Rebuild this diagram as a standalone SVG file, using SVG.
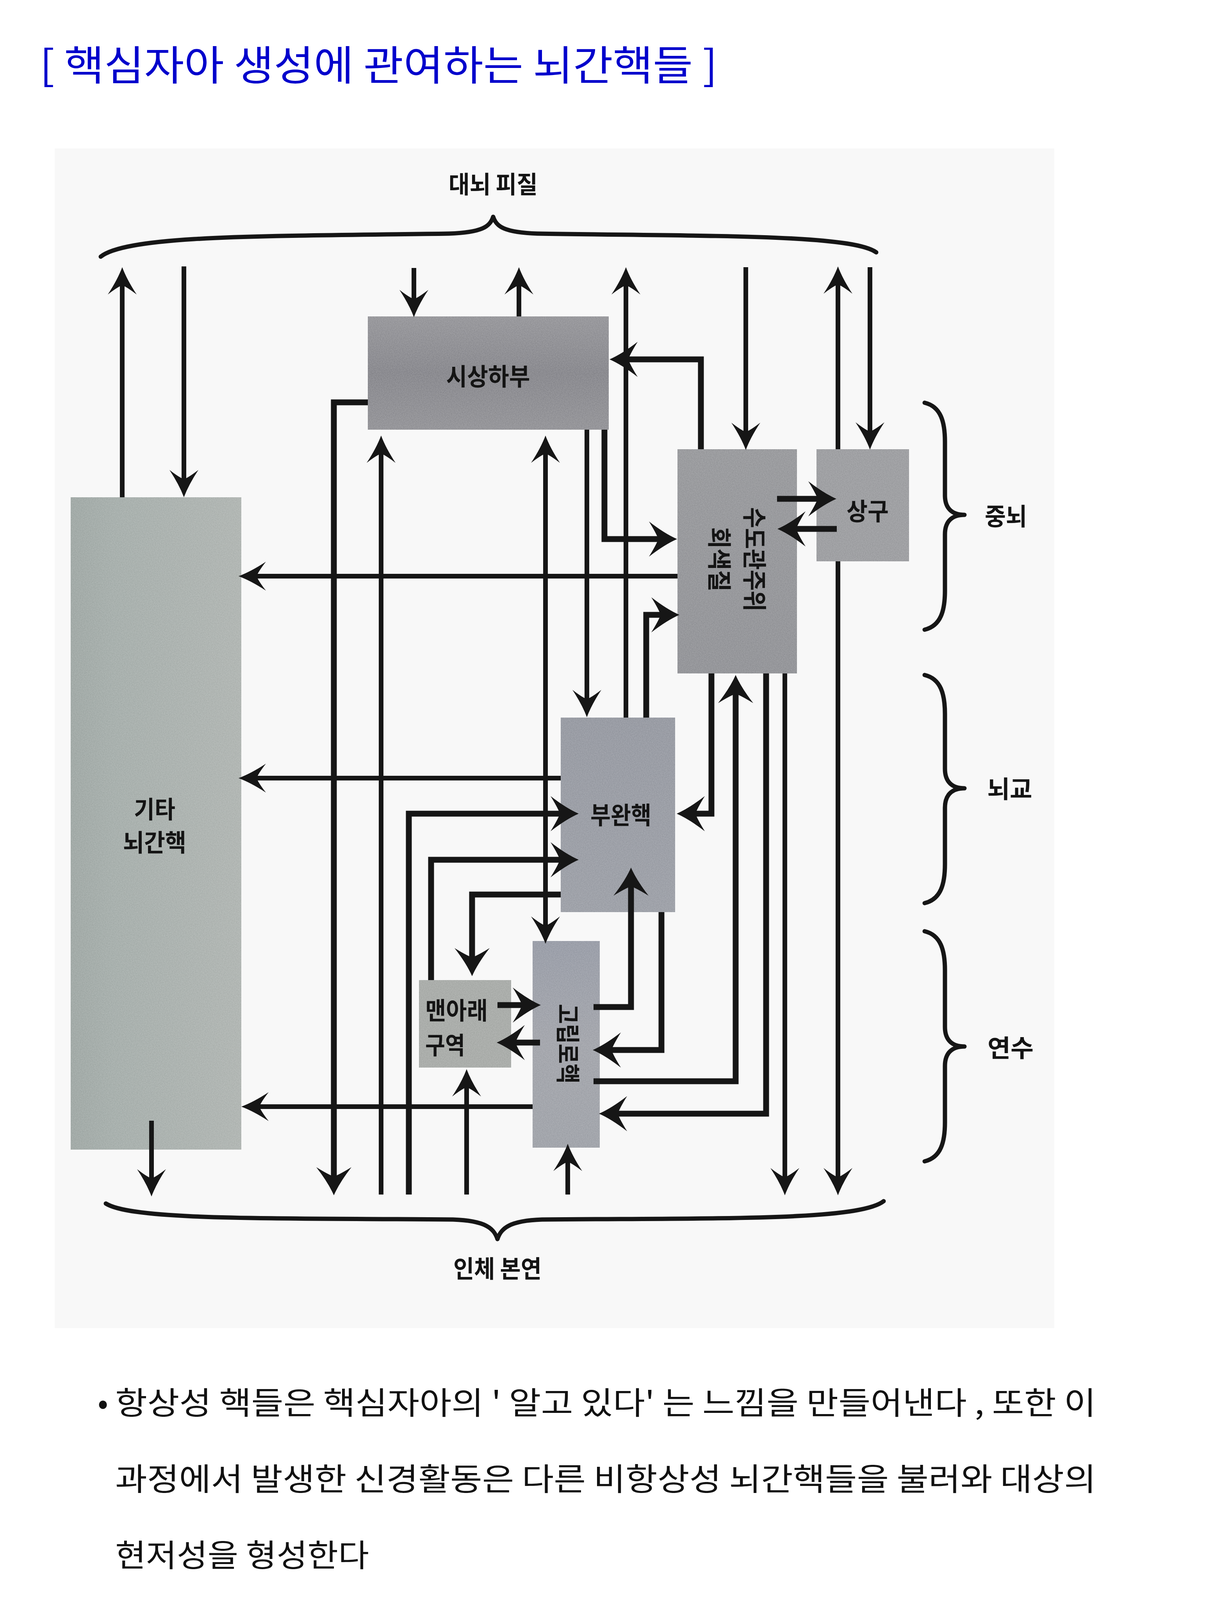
<svg xmlns="http://www.w3.org/2000/svg" width="3086" height="4364" viewBox="0 0 3086 4364">
<style>
.lbl{font-family:"Noto Sans CJK KR","Noto Sans",sans-serif;font-size:62px;font-weight:700;fill:#141414;text-anchor:middle;dominant-baseline:central}
.lblL{font-family:"Noto Sans CJK KR","Noto Sans",sans-serif;font-size:62px;font-weight:700;fill:#141414;text-anchor:start;dominant-baseline:central}
.c{fill:none;stroke:#161616;stroke-width:12;marker-end:url(#ah)}
.cb{fill:none;stroke:#161616;stroke-width:15;stroke-linejoin:miter;marker-end:url(#ahb)}
.bi{marker-start:url(#ah)}
.brace{fill:none;stroke:#161616;stroke-width:11;stroke-linecap:round;stroke-linejoin:round}
.body{font-family:"Noto Sans CJK KR","Noto Sans",sans-serif;font-size:80px;fill:#111}
.box{stroke:none;filter:url(#grain)}
</style>
<defs>
<marker id="ah" viewBox="-72 -40 76 80" refX="-40" refY="0" markerWidth="76" markerHeight="80" markerUnits="userSpaceOnUse" orient="auto-start-reverse">
<path d="M2,0 Q-30,-12 -68,-37 Q-50,-14 -44,0 Q-50,14 -68,37 Q-30,12 2,0 Z" fill="#161616"/>
</marker>
<marker id="ahb" viewBox="-76 -50 80 100" refX="-40" refY="0" markerWidth="80" markerHeight="100" markerUnits="userSpaceOnUse" orient="auto-start-reverse">
<path d="M2,0 Q-30,-14 -70,-45 Q-52,-16 -46,0 Q-52,16 -70,45 Q-30,14 2,0 Z" fill="#161616"/>
</marker>
<filter id="grain" x="0" y="0" width="1" height="1">
<feTurbulence type="fractalNoise" baseFrequency="0.45" numOctaves="2" seed="4" result="t"/>
<feColorMatrix in="t" type="matrix" values="1 0 0 0 0 1 0 0 0 0 1 0 0 0 0 0 0 0 0 1" result="g"/>
<feComposite in="SourceGraphic" in2="g" operator="arithmetic" k1="0" k2="1" k3="0.16" k4="-0.08" result="n"/>
<feComposite in="n" in2="SourceGraphic" operator="in"/>
</filter>
<linearGradient id="gOther" x1="0" y1="0" x2="1" y2="0">
<stop offset="0" stop-color="#a3aba8"/><stop offset="0.25" stop-color="#a9b1ae"/><stop offset="1" stop-color="#b2b7b4"/>
</linearGradient>
<linearGradient id="gHyp" x1="0" y1="0" x2="0" y2="1">
<stop offset="0" stop-color="#9a9a9e"/><stop offset="0.5" stop-color="#8c8c91"/><stop offset="1" stop-color="#97979b"/>
</linearGradient>
<linearGradient id="gPag" x1="0" y1="0" x2="0" y2="1">
<stop offset="0" stop-color="#9c9da0"/><stop offset="1" stop-color="#96979b"/>
</linearGradient>
<linearGradient id="gPb" x1="0" y1="0" x2="0" y2="1">
<stop offset="0" stop-color="#9a9da5"/><stop offset="1" stop-color="#a0a3aa"/>
</linearGradient>
<linearGradient id="gNts" x1="0" y1="0" x2="0" y2="1">
<stop offset="0" stop-color="#9ca0aa"/><stop offset="0.5" stop-color="#a6a8ae"/><stop offset="1" stop-color="#a3a6ac"/>
</linearGradient>
</defs>

<rect x="140" y="380" width="2560" height="3020" fill="#f8f8f8"/>

<g id="title">
<text x="102" y="205" font-family="'Noto Sans CJK KR','Noto Sans',sans-serif" font-size="105" fill="#0000cc" textLength="1735" lengthAdjust="spacingAndGlyphs">[ 핵심자아 생성에 관여하는 뇌간핵들 ]</text>
</g>

<g id="node-hypothalamus">
<rect class="box" x="942" y="810" width="617" height="290" fill="url(#gHyp)"/>
<text class="lbl" x="1250" y="960" textLength="215" lengthAdjust="spacingAndGlyphs">시상하부</text>
</g>
<g id="node-pag">
<rect class="box" x="1735" y="1150" width="306" height="574" fill="url(#gPag)"/>
<g transform="translate(1891,1432) rotate(90)">
<text class="lbl" x="0" y="-45" textLength="267" lengthAdjust="spacingAndGlyphs">수도관주위</text>
<text class="lbl" x="0" y="45" textLength="165" lengthAdjust="spacingAndGlyphs">회색질</text>
</g>
</g>
<g id="node-superior-colliculus">
<rect class="box" x="2091" y="1150" width="237" height="287" fill="#a0a1a4"/>
<text class="lbl" x="2222" y="1305" textLength="108" lengthAdjust="spacingAndGlyphs">상구</text>
</g>
<g id="node-other-brainstem">
<rect class="box" x="181" y="1273" width="437" height="1670" fill="url(#gOther)"/>
<text class="lbl" x="396" y="2068" textLength="106" lengthAdjust="spacingAndGlyphs">기타</text>
<text class="lbl" x="396" y="2153" textLength="162" lengthAdjust="spacingAndGlyphs">뇌간핵</text>
</g>
<g id="node-parabrachial">
<rect class="box" x="1436" y="1837" width="293" height="498" fill="url(#gPb)"/>
<text class="lbl" x="1590" y="2083" textLength="156" lengthAdjust="spacingAndGlyphs">부완핵</text>
</g>
<g id="node-nts">
<rect class="box" x="1364" y="2409" width="172" height="529" fill="url(#gNts)"/>
<g transform="translate(1458,2672) rotate(90)">
<text class="lbl" x="0" y="0" textLength="204" lengthAdjust="spacingAndGlyphs">고립로핵</text>
</g>
</g>
<g id="node-area-postrema">
<rect class="box" x="1073" y="2509" width="236" height="224" fill="#abaeab"/>
<text class="lblL" x="1089" y="2583" textLength="160" lengthAdjust="spacingAndGlyphs">맨아래</text>
<text class="lblL" x="1089" y="2672" textLength="102" lengthAdjust="spacingAndGlyphs">구역</text>
</g>

<g id="connectors">
<path class="c" d="M313,1273 V726"/>
<path class="c" d="M471,682 V1231"/>
<path class="c" d="M1060,686 V770"/>
<path class="c" d="M1329,810 V726"/>
<path class="c" d="M1603,1837 V726"/>
<path class="c" d="M1910,684 V1110"/>
<path class="c bi" d="M2146,724 V1150 M2146,1437 V3018"/>
<path class="c" d="M2228,684 V1109"/>
<path class="c" d="M1503,1100 V1794"/>
<path class="c" d="M1735,1475 H653"/>
<path class="c" d="M1436,1992 H653"/>
<path class="c bi" d="M1397,1157 V2374"/>
<path class="c" d="M976,3058 V1157"/>
<path class="c" d="M1195,3058 V2779"/>
<path class="c" d="M1454,3058 V2970"/>
<path class="c" d="M2010,1724 V3018"/>
<path class="c" d="M1364,2833 H660"/>
<path class="c" d="M388,2869 V3021"/>
<path class="cb" d="M1795,1150 V920 H1603"/>
<path class="cb" d="M1548,1100 V1380 H1692"/>
<path class="cb" d="M1990,1277 H2100"/>
<path class="cb" d="M2143,1354 H2033"/>
<path class="cb" d="M1655,1837 V1574 H1698"/>
<path class="cb" d="M1822,1724 V2083 H1775"/>
<path class="cb" d="M1047,3058 V2083 H1440"/>
<path class="cb" d="M1104,2509 V2201 H1440"/>
<path class="cb" d="M1436,2290 H1209 V2457"/>
<path class="cb" d="M942,1030 H855 V3018"/>
<path class="cb" d="M1274,2573 H1343"/>
<path class="cb" d="M1383,2669 H1314"/>
<path class="cb" d="M1520,2578 H1616 V2263"/>
<path class="cb" d="M1694,2335 V2688 H1560"/>
<path class="cb" d="M1520,2768 H1884 V1770"/>
<path class="cb" d="M1962,1724 V2851 H1576"/>
</g>

<g id="brace-cortex">
<path class="brace" d="M258,657 C330,600 700,605 1150,598 C1235,595 1255,580 1263,555 C1271,580 1291,595 1376,598 C1830,605 2180,600 2244,646"/>
<text class="lbl" x="1263" y="468" textLength="228" lengthAdjust="spacingAndGlyphs">대뇌 피질</text>
</g>
<g id="brace-body">
<path class="brace" d="M271,3081 C340,3125 700,3118 1160,3122 C1245,3125 1265,3145 1274,3172 C1283,3145 1303,3125 1388,3122 C1850,3118 2200,3125 2263,3075"/>
<text class="lbl" x="1274" y="3244" textLength="226" lengthAdjust="spacingAndGlyphs">인체 본연</text>
</g>
<g id="brace-midbrain">
<path class="brace" d="M2368,1031 C2410,1041 2420,1081 2420,1131 L2420,1268 C2420,1303 2440,1318 2470,1318 C2440,1318 2420,1333 2420,1368 L2420,1512 C2420,1562 2410,1602 2368,1612"/>
<text class="lbl" x="2576" y="1318" textLength="108" lengthAdjust="spacingAndGlyphs">중뇌</text>
</g>
<g id="brace-pons">
<path class="brace" d="M2368,1728 C2410,1738 2420,1778 2420,1828 L2420,1968 C2420,2003 2440,2018 2470,2018 C2440,2018 2420,2033 2420,2068 L2420,2212 C2420,2262 2410,2302 2368,2312"/>
<text class="lbl" x="2586" y="2016" textLength="115" lengthAdjust="spacingAndGlyphs">뇌교</text>
</g>
<g id="brace-medulla">
<path class="brace" d="M2368,2384 C2410,2394 2420,2434 2420,2484 L2420,2629 C2420,2664 2440,2679 2470,2679 C2440,2679 2420,2694 2420,2729 L2420,2873 C2420,2923 2410,2963 2368,2973"/>
<text class="lbl" x="2588" y="2679" textLength="118" lengthAdjust="spacingAndGlyphs">연수</text>
</g>

<g id="caption">
<text class="body" x="250" y="3620">•</text>
<text class="body" x="295" y="3620" textLength="2512" lengthAdjust="spacingAndGlyphs">항상성 핵들은 핵심자아의 ' 알고 있다' 는 느낌을 만들어낸다 , 또한 이</text>
<text class="body" x="295" y="3815" textLength="2512" lengthAdjust="spacingAndGlyphs">과정에서 발생한 신경활동은 다른 비항상성 뇌간핵들을 불러와 대상의</text>
<text class="body" x="295" y="4010" textLength="650" lengthAdjust="spacingAndGlyphs">현저성을 형성한다</text>
</g>
</svg>
